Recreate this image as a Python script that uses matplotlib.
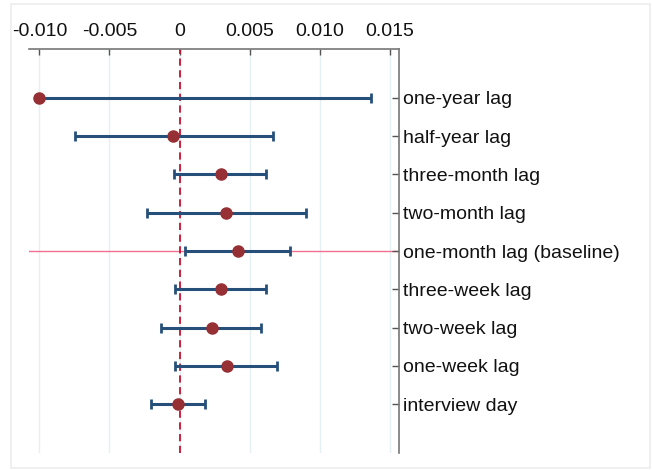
import numpy as np
import matplotlib.pyplot as plt
from matplotlib.patches import Rectangle

plt.rcParams['font.family'] = ['Liberation Sans', 'DejaVu Sans']

labels = ['one-year lag', 'half-year lag', 'three-month lag', 'two-month lag',
          'one-month lag (baseline)', 'three-week lag', 'two-week lag',
          'one-week lag', 'interview day']
est = [-0.0100, -0.00045, 0.00294, 0.00329, 0.00419, 0.00298, 0.00231, 0.00341, -0.0001]
lo = [-0.0100, -0.00746, -0.00039, -0.00229, 0.00036, -0.00031, -0.00129, -0.00031, -0.00202]
hi = [0.01369, 0.00668, 0.00617, 0.00899, 0.00789, 0.00617, 0.00581, 0.00698, 0.00179]
xticks = [-0.010, -0.005, 0, 0.005, 0.010, 0.015]
xticklabels = ['-0.010', '-0.005', '0', '0.005', '0.010', '0.015']
baseline = 'one-month lag (baseline)'

n = len(labels)
ypos = np.arange(n, 0, -1)
est = np.array(est)
lo = np.array(lo)
hi = np.array(hi)

fig = plt.figure(figsize=(6.52, 4.70), dpi=100)
fig.patches.append(Rectangle((11 / 652, 2 / 470), 639 / 652, 464 / 470,
                             transform=fig.transFigure, fill=False,
                             edgecolor='#ececec', linewidth=1.2))
ax = fig.add_axes([0.0445, 0.0368, 0.5667, 0.8583])

for xt in xticks:
    ax.axvline(xt, color='#e6eff3', linewidth=1, zorder=0)

yb = ypos[labels.index(baseline)]
ax.axhline(yb, color='#f0708f', linewidth=1, zorder=1)
ax.axvline(0, color='#c8102e', linestyle=(0, (4, 2.5)), linewidth=1.3, zorder=2)

ax.errorbar(est, ypos, xerr=[est - lo, hi - est], fmt='none',
            ecolor='#26507a', elinewidth=2.2, capsize=3.5, capthick=2, zorder=3)
ax.plot(est, ypos, 'o', color='#963035', markersize=8, zorder=4)

ax.set_xlim(-0.01074, 0.01562)
ax.set_ylim(1 - 1.262, n + 1.262)

ax.xaxis.tick_top()
ax.set_xticks(xticks)
ax.set_xticklabels(xticklabels)
ax.yaxis.tick_right()
ax.set_yticks(ypos)
ax.set_yticklabels(labels)
ax.tick_params(axis='x', direction='in', length=4, width=1, color='#555555',
               pad=7, labelsize=14, labelcolor='#111111')
ax.tick_params(axis='y', direction='in', length=5, width=1, color='#555555',
               pad=3, labelsize=14, labelcolor='#111111')

for s in ['left', 'bottom']:
    ax.spines[s].set_visible(False)
for s in ['top', 'right']:
    ax.spines[s].set_color('#777777')
    ax.spines[s].set_linewidth(1.2)

fig.savefig('out.png', dpi=100)
